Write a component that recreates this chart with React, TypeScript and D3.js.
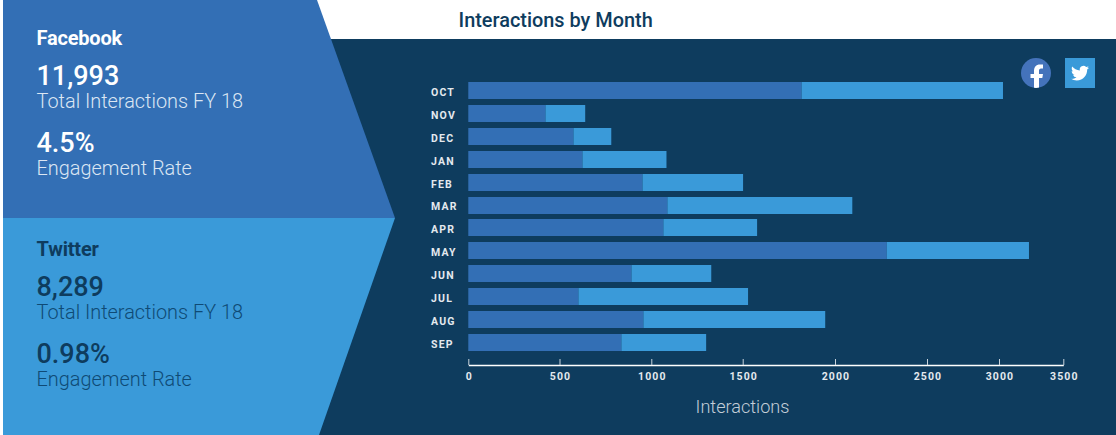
import React, { useEffect, useRef } from "react";
import * as d3 from "d3";

const months = ["OCT","NOV","DEC","JAN","FEB","MAR","APR","MAY","JUN","JUL","AUG","SEP"];
const facebook = [1819,423,576,625,952,1088,1066,2281,892,603,957,837];
const twitter = [1212,217,206,458,550,1006,512,952,436,926,990,463];
const tickValues = [0,500,1000,1500,2000,2500,3000,3500];
const tickPositions = [468.3,559.5,651.3,742.7,835,927,999,1063.3];

const NAVY = "#0e3c5e";
const FB = "#336fb5";
const TW = "#3a9ad9";
const W = 1116, H = 435;

const x = d3.scaleLinear().domain(tickValues).range(tickPositions);
const y = d3.scaleBand<string>().domain(months).range([79.05, 354]).paddingInner(0.258).paddingOuter(0.129);

const font = "Roboto, sans-serif";

const panels = [
  { name: "Facebook", total: "11,993", rate: "4.5%", top: 0, main: "#ffffff", sub: "#dbe6f3" },
  { name: "Twitter", total: "8,289", rate: "0.98%", top: 211, main: NAVY, sub: "#0f4a75" },
];

export default function App() {
  const xRef = useRef<SVGGElement>(null);
  const yRef = useRef<SVGGElement>(null);

  useEffect(() => {
    const gx = d3.select(xRef.current!);
    gx.call(d3.axisBottom(x).tickValues(tickValues).tickFormat(d3.format("d") as any).tickSizeInner(-6).tickSizeOuter(0).tickPadding(8) as any);
    gx.select(".domain").attr("stroke", "#ffffff").attr("stroke-width", 1.5);
    gx.selectAll(".tick line").attr("stroke", "#c8d3dc").attr("y2", -6);
    gx.selectAll(".tick text")
      .attr("y", 8).attr("dy", "0.71em").attr("dx", 0.5)
      .attr("fill", "#e4e9ee").attr("font-family", font).attr("font-weight", 700)
      .attr("font-size", 10.5).attr("letter-spacing", 1.1);

    const gy = d3.select(yRef.current!);
    gy.call(d3.axisLeft(y).tickSize(0).tickPadding(0) as any);
    gy.select(".domain").remove();
    gy.selectAll(".tick text")
      .attr("x", 0).attr("y", 2).attr("text-anchor", "start")
      .attr("fill", "#e4e9ee").attr("font-family", font).attr("font-weight", 700)
      .attr("font-size", 10.5).attr("letter-spacing", 1.2);
  }, []);

  return (
    <svg width={W} height={H} viewBox={`0 0 ${W} ${H}`} style={{ position: "absolute", left: 0, top: 0, background: "#fff" }}>
      <rect x={3} y={39} width={W - 3} height={H - 39} fill={NAVY} />
      <polygon points="3,0 317,0 395,218 3,218" fill={FB} />
      <polygon points="3,218 395,218 319,435 3,435" fill={TW} />

      {panels.map((p) => (
        <g key={p.name} transform={`translate(36.5,${p.top})`} fontFamily={font}>
          <text y={45} fontSize={20} fontWeight={700} fill={p.main} letterSpacing={-0.2}>{p.name}</text>
          <text y={85} fontSize={27} fontWeight={500} fill={p.main}>{p.total}</text>
          <text y={108} fontSize={19.9} fontWeight={300} fill={p.sub}>Total Interactions FY 18</text>
          <text y={152} fontSize={27} fontWeight={500} fill={p.main}>{p.rate}</text>
          <text y={175} fontSize={19.9} fontWeight={300} fill={p.sub}>Engagement Rate</text>
        </g>
      ))}

      <text x={458.5} y={27} fontFamily={font} fontSize={19.9} fontWeight={500} fill={NAVY}>Interactions by Month</text>

      {months.map((m, i) => {
        const top = Math.round(y(m)!);
        const h = Math.round(y.bandwidth());
        return (
          <g key={m}>
            <rect x={x(0)} y={top} width={x(facebook[i]) - x(0)} height={h} fill={FB} />
            <rect x={x(facebook[i])} y={top} width={x(facebook[i] + twitter[i]) - x(facebook[i])} height={h} fill={TW} />
          </g>
        );
      })}

      <g ref={xRef} transform="translate(0,365)" />
      <g ref={yRef} transform="translate(431,0)" />

      <text x={742.5} y={412.5} textAnchor="middle" fontFamily={font} fontSize={18.1} fontWeight={300} fill="#c3ced8">Interactions</text>

      <clipPath id="fbClip"><circle cx={1036} cy={73} r={15} /></clipPath>
      <circle cx={1036} cy={73} r={15} fill="#4473bb" />
      <path clipPath="url(#fbClip)" fill="#fff" d="M1034 89V78H1030.5V74H1034V71C1034 67 1036 64.5 1040 64.5H1043V68.5H1041C1039.5 68.5 1039 69.5 1039 71V74H1043L1042.3 78H1039V89Z" />
      <rect x={1065} y={58} width={30} height={30} fill={TW} />
      <path transform="translate(1071,64.2) scale(0.75)" fill="#fff" d="M23.953 4.57a10 10 0 01-2.825.775 4.958 4.958 0 002.163-2.723c-.951.555-2.005.959-3.127 1.184a4.92 4.92 0 00-8.384 4.482C7.69 8.095 4.067 6.13 1.64 3.162a4.822 4.822 0 00-.666 2.475c0 1.71.87 3.213 2.188 4.096a4.904 4.904 0 01-2.228-.616v.06a4.923 4.923 0 003.946 4.827 4.996 4.996 0 01-2.212.085 4.936 4.936 0 004.604 3.417 9.867 9.867 0 01-6.102 2.105c-.39 0-.779-.023-1.17-.067a13.995 13.995 0 007.557 2.209c9.053 0 13.998-7.496 13.998-13.985 0-.21 0-.42-.015-.63A9.935 9.935 0 0024 4.59z" />
    </svg>
  );
}
